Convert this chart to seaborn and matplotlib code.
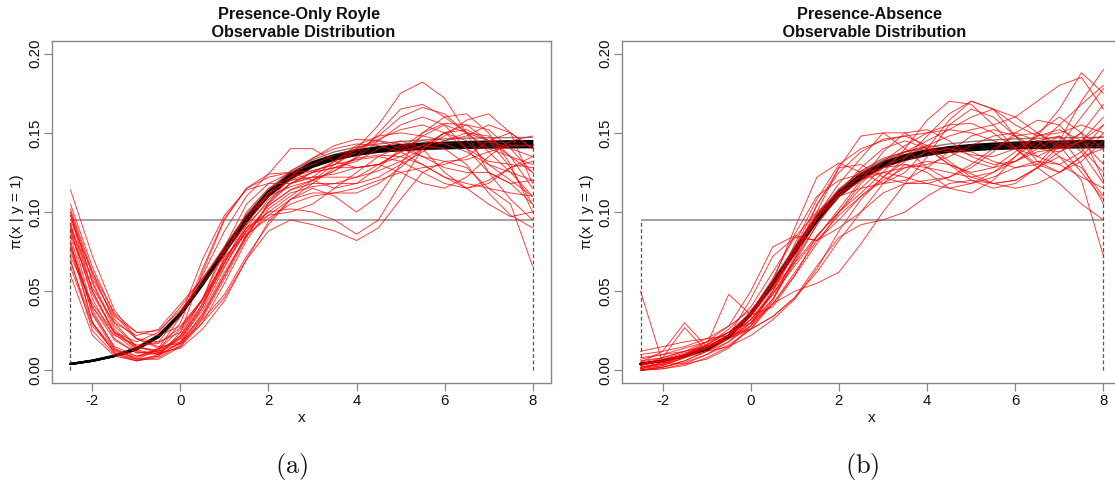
import numpy as np
import pandas as pd
import matplotlib
matplotlib.use("Agg")
import matplotlib.pyplot as plt
import seaborn as sns

# ---- grid on which every curve is evaluated ----
x_grid = [-2.5, -2.0, -1.5, -1.0, -0.5, 0.0, 0.5, 1.0, 1.5, 2.0, 2.5,
          3.0, 3.5, 4.0, 4.5, 5.0, 5.5, 6.0, 6.5, 7.0, 7.5, 8.0]

# ---- fitted observable distributions (values in 1/1000 units) ----
black_fits = [
    [4, 6.0, 9.0, 13.0, 21.0, 35.0, 54.0, 74.0, 94.0, 110.0, 121.0, 128.5, 133.0, 136.0, 138.0, 139.0, 139.8, 140.2, 140.5, 140.7, 140.8, 140.9],
    [4, 6.0, 9.0, 13.5, 21.0, 35.0, 54.0, 75.0, 95.0, 111.0, 122.0, 129.5, 134.0, 137.0, 139.0, 140.2, 141.0, 141.5, 141.8, 142.0, 142.1, 142.2],
    [4, 6.0, 9.0, 13.5, 21.5, 35.5, 55.0, 76.0, 96.0, 112.0, 123.0, 130.5, 135.0, 138.0, 140.0, 141.2, 142.0, 142.6, 143.0, 143.2, 143.4, 143.5],
    [4, 6.2, 9.3, 14.0, 22.0, 36.0, 55.5, 76.5, 97.0, 113.0, 124.0, 131.5, 136.0, 139.0, 141.0, 142.3, 143.2, 143.8, 144.2, 144.5, 144.7, 144.8],
]
true_curve = [4, 6.3, 9.5, 14.5, 22.5, 37.0, 57.0, 78.0, 98.5, 114.5, 125.5, 133.0, 138.0, 141.0, 143.0, 144.5, 145.5, 146.2, 146.6, 146.9, 147.0, 147.1]

uniform_density = 0.0952
x_low, x_high = -2.5, 8.0
black_end = 0.143

# ---- panel (a): presence-only (Royle) estimates ----
royle_runs = [
    [100, 60, 32, 20, 18, 24, 45, 78, 105, 118, 125, 130, 136, 140, 146, 152, 155, 150, 140, 132, 130, 128],
    [114, 72, 38, 20, 14, 18, 40, 72, 100, 115, 122, 126, 130, 138, 148, 160, 166, 162, 150, 140, 135, 130],
    [92, 45, 20, 11, 11, 20, 42, 70, 90, 100, 102, 100, 95, 86, 95, 118, 140, 150, 145, 130, 120, 110],
    [85, 35, 13, 7, 9, 18, 35, 60, 85, 105, 118, 125, 128, 132, 140, 145, 140, 125, 115, 118, 128, 135],
    [78, 30, 11, 6, 8, 16, 32, 48, 72, 92, 108, 115, 110, 100, 110, 130, 150, 160, 162, 150, 130, 100],
    [95, 62, 36, 24, 22, 28, 45, 70, 90, 98, 100, 105, 115, 125, 135, 142, 145, 143, 138, 130, 125, 120],
    [70, 25, 10, 6, 9, 24, 62, 95, 115, 124, 125, 120, 115, 118, 128, 140, 150, 156, 155, 145, 135, 125],
    [100, 55, 26, 13, 10, 15, 30, 46, 70, 88, 95, 92, 88, 82, 90, 108, 125, 132, 128, 115, 105, 66],
    [88, 48, 24, 15, 18, 35, 60, 88, 110, 124, 140, 140, 132, 128, 130, 138, 148, 155, 150, 138, 125, 110],
    [60, 22, 9, 6, 10, 22, 45, 75, 98, 110, 116, 120, 126, 135, 150, 165, 168, 160, 150, 145, 140, 135],
    [98, 50, 24, 14, 13, 20, 38, 65, 90, 108, 118, 125, 132, 140, 155, 175, 182, 172, 150, 125, 108, 95],
    [82, 30, 11, 7, 13, 30, 64, 96, 115, 122, 125, 126, 130, 133, 135, 132, 125, 118, 115, 120, 128, 132],
    [75, 40, 22, 16, 17, 27, 45, 68, 88, 100, 110, 120, 130, 140, 145, 143, 135, 128, 125, 125, 118, 105],
    [90, 58, 34, 24, 25, 38, 55, 72, 86, 96, 105, 110, 112, 115, 120, 125, 128, 130, 135, 145, 150, 140],
    [105, 65, 35, 20, 15, 17, 30, 55, 82, 102, 112, 116, 118, 122, 130, 138, 142, 140, 130, 112, 98, 90],
    [65, 28, 12, 8, 14, 34, 70, 98, 114, 118, 118, 122, 132, 142, 148, 150, 148, 145, 148, 155, 150, 140],
    [93, 50, 23, 12, 10, 17, 36, 62, 85, 98, 108, 118, 128, 134, 136, 135, 130, 122, 118, 115, 112, 110],
    [72, 42, 24, 18, 24, 40, 58, 76, 92, 106, 118, 122, 122, 122, 126, 132, 140, 148, 158, 162, 150, 118],
    [80, 36, 15, 9, 11, 21, 40, 68, 95, 112, 120, 122, 124, 128, 130, 125, 118, 115, 122, 135, 145, 148],
    [98, 56, 28, 15, 12, 17, 34, 60, 86, 104, 114, 118, 118, 118, 122, 130, 138, 145, 150, 148, 135, 115],
    [68, 30, 13, 9, 13, 26, 44, 68, 92, 112, 126, 134, 140, 143, 142, 138, 130, 122, 115, 105, 97, 100],
    [86, 52, 30, 22, 26, 42, 58, 78, 98, 112, 120, 125, 128, 128, 130, 135, 142, 150, 155, 152, 140, 125],
    [102, 62, 30, 15, 11, 14, 26, 44, 70, 94, 108, 112, 112, 112, 118, 128, 140, 150, 152, 145, 128, 105],
    [78, 40, 19, 11, 12, 22, 42, 66, 88, 104, 114, 120, 126, 134, 145, 155, 160, 155, 140, 125, 118, 120],
    [90, 38, 14, 7, 7, 15, 33, 58, 84, 106, 122, 134, 142, 146, 145, 140, 135, 132, 133, 138, 142, 142],
]

# ---- panel (b): presence-absence estimates ----
pa_runs = [
    [50, 5, 4, 7, 14, 28, 50, 76, 98, 114, 126, 134, 138, 140, 138, 132, 128, 132, 142, 155, 168, 180],
    [2, 4, 10, 18, 24, 30, 45, 68, 92, 110, 124, 132, 138, 145, 152, 160, 165, 160, 150, 140, 145, 160],
    [5, 12, 30, 15, 22, 45, 72, 84, 82, 90, 100, 118, 130, 125, 115, 112, 120, 135, 150, 160, 150, 120],
    [0, 2, 6, 12, 20, 32, 48, 66, 84, 102, 120, 138, 150, 152, 145, 135, 130, 132, 140, 148, 130, 105],
    [8, 10, 12, 15, 20, 30, 50, 80, 108, 130, 140, 145, 148, 150, 152, 150, 145, 140, 135, 142, 160, 178],
    [1, 3, 8, 14, 22, 35, 55, 78, 98, 110, 115, 118, 125, 140, 158, 170, 165, 148, 132, 125, 135, 150],
    [3, 8, 27, 12, 15, 22, 32, 45, 64, 88, 108, 122, 132, 138, 140, 138, 132, 128, 130, 145, 170, 190],
    [0, 1, 4, 10, 18, 30, 48, 70, 92, 112, 128, 140, 145, 140, 130, 120, 115, 118, 128, 142, 150, 140],
    [12, 15, 18, 20, 22, 26, 34, 46, 62, 82, 100, 112, 118, 120, 122, 128, 138, 150, 158, 155, 140, 125],
    [4, 6, 10, 16, 48, 35, 40, 60, 85, 100, 112, 125, 140, 158, 170, 168, 155, 140, 130, 125, 132, 145],
    [0, 3, 8, 14, 22, 32, 48, 70, 105, 125, 138, 146, 148, 142, 132, 122, 118, 120, 128, 138, 145, 148],
    [6, 8, 12, 18, 28, 50, 78, 85, 82, 95, 110, 122, 134, 148, 162, 170, 165, 155, 148, 150, 155, 150],
    [2, 4, 8, 12, 18, 28, 45, 72, 100, 128, 130, 122, 118, 118, 122, 130, 140, 148, 150, 142, 125, 108],
    [0, 2, 5, 10, 16, 26, 42, 62, 82, 98, 110, 120, 128, 132, 130, 124, 118, 115, 118, 125, 135, 140],
    [10, 12, 15, 20, 28, 38, 54, 76, 96, 110, 120, 128, 135, 142, 148, 152, 155, 160, 170, 180, 185, 165],
    [1, 5, 10, 16, 24, 36, 58, 86, 110, 120, 124, 128, 130, 128, 125, 122, 125, 135, 145, 148, 138, 118],
    [4, 7, 11, 15, 20, 28, 42, 60, 80, 100, 118, 132, 142, 150, 155, 156, 150, 140, 128, 118, 105, 95],
    [0, 1, 3, 8, 15, 26, 44, 70, 96, 114, 122, 125, 122, 118, 115, 118, 125, 132, 138, 140, 150, 168],
    [3, 6, 10, 15, 22, 32, 50, 74, 98, 118, 134, 150, 150, 140, 130, 125, 128, 138, 148, 152, 145, 130],
    [2, 5, 9, 14, 20, 26, 34, 46, 66, 84, 92, 95, 100, 110, 118, 120, 118, 120, 128, 135, 128, 110],
    [7, 10, 14, 18, 24, 34, 52, 78, 104, 128, 148, 150, 140, 128, 120, 118, 122, 128, 132, 130, 122, 115],
    [0, 2, 6, 12, 20, 30, 42, 50, 55, 62, 80, 100, 118, 135, 155, 165, 160, 148, 135, 130, 138, 155],
    [5, 8, 12, 16, 24, 36, 52, 68, 85, 100, 115, 128, 138, 142, 140, 136, 135, 140, 148, 165, 188, 175],
    [1, 4, 9, 16, 26, 40, 62, 84, 100, 112, 120, 125, 128, 130, 135, 142, 148, 150, 145, 135, 120, 72],
    [3, 6, 10, 15, 22, 34, 56, 90, 122, 131, 125, 118, 120, 128, 138, 148, 152, 148, 140, 138, 145, 155],
]

titles = ["Presence-Only Royle \n Observable Distribution",
          "Presence-Absence \n Observable Distribution"]
panel_tags = ["(a)", "(b)"]
y_ticks = [0.00, 0.05, 0.10, 0.15, 0.20]
x_ticks = [-2, 0, 2, 4, 6, 8]


def long_frame(runs):
    rows = []
    for i, run in enumerate(runs):
        for xv, yv in zip(x_grid, run):
            rows.append((i, xv, yv / 1000.0))
    return pd.DataFrame(rows, columns=["run", "x", "density"])


sns.set_theme(style="ticks")
plt.rcParams["font.family"] = ["Liberation Sans", "DejaVu Sans"]
plt.rcParams["mathtext.fontset"] = "cm"

W, H = 1115, 487
fig = plt.figure(figsize=(W / 100, H / 100), dpi=100)
fig.patch.set_facecolor("white")

axes_px = [(52, 551), (622, 1122)]
top_px, bot_px = 41, 383

black_df = long_frame(black_fits)
true_df = long_frame([true_curve])

for k, (runs, (l, r)) in enumerate(zip([royle_runs, pa_runs], axes_px)):
    ax = fig.add_axes([l / W, (H - bot_px) / H, (r - l) / W, (bot_px - top_px) / H])
    ax.set_facecolor("white")

    # uniform reference density and support boundaries
    ax.hlines(uniform_density, x_low, x_high, color="#9a9a9a", lw=1.3, zorder=1)
    ax.vlines([x_low, x_high], 0, [uniform_density, black_end],
              color="#555555", lw=0.9, linestyles=(0, (3, 2)), zorder=1)

    # fitted curves
    sns.lineplot(data=true_df, x="x", y="density", units="run", estimator=None,
                 color="#808080", lw=1.0, ax=ax, legend=False, zorder=2)
    sns.lineplot(data=black_df, x="x", y="density", units="run", estimator=None,
                 color="black", lw=1.6, ax=ax, legend=False, zorder=3)

    # replicate estimates
    sns.lineplot(data=long_frame(runs), x="x", y="density", units="run",
                 estimator=None, color="#ff0000", lw=0.65, alpha=0.8,
                 ax=ax, legend=False, zorder=4)

    ax.set_xlim(-2.92, 8.42)
    ax.set_ylim(-0.008, 0.208)
    ax.set_xticks(x_ticks)
    ax.set_xticklabels([str(t) for t in x_ticks])
    ax.set_yticks(y_ticks)
    ax.set_yticklabels([f"{t:.2f}" for t in y_ticks], rotation=90, va="center")
    ax.tick_params(axis="both", direction="out", length=6, width=0.9,
                   color="#888888", labelsize=10.8, labelcolor="#111111", pad=2,
                   bottom=True, left=True)
    ax.tick_params(axis="y", pad=1)
    for sp in ax.spines.values():
        sp.set_visible(True)
        sp.set_color("#888888")
        sp.set_linewidth(1.0)

    ax.set_xlabel("x", fontsize=11, labelpad=2, color="#111111")
    ax.set_ylabel("π(x | y = 1)", fontsize=11, labelpad=3, color="#111111")
    ax.set_title(titles[k], fontsize=11.7, fontweight="bold", pad=3,
                 color="#111111", linespacing=1.25)

    cx = (l + r) / 2 - 10
    fig.text(cx / W, 1 - 467 / H, r"$\mathrm{" + panel_tags[k] + "}$",
             fontsize=19, ha="center", va="center", color="#111111")

fig.savefig("out.png", dpi=100, facecolor="white")
